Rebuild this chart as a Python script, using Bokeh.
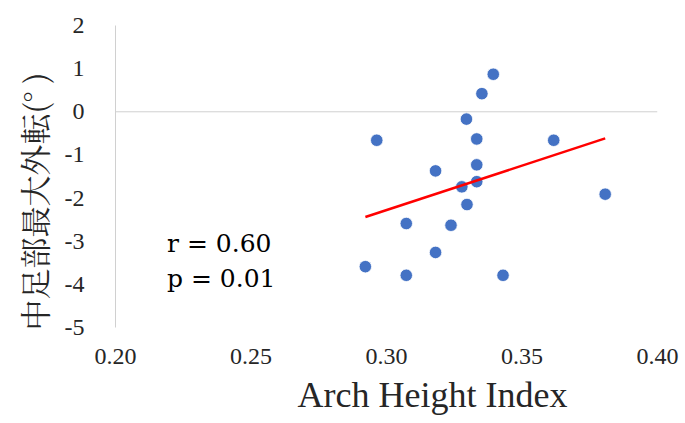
import numpy as np
from bokeh.plotting import figure
from bokeh.models import Span, Label, FixedTicker, Range1d, Title
from bokeh.embed import file_html
from bokeh.resources import INLINE

# Data
arch_height_index = [0.3394, 0.3352, 0.3295, 0.2964, 0.3333, 0.3617, 0.3333, 0.3181, 0.3333,
                     0.3278, 0.3807, 0.3297, 0.3073, 0.3238, 0.3181, 0.2922, 0.3073, 0.3430]
abduction_deg = [0.87, 0.42, -0.17, -0.66, -0.63, -0.66, -1.23, -1.37, -1.62,
                 -1.74, -1.91, -2.15, -2.59, -2.63, -3.26, -3.59, -3.79, -3.79]
x_ticks = [0.20, 0.25, 0.30, 0.35, 0.40]
y_ticks = [-5, -4, -3, -2, -1, 0, 1, 2]
stats_text = ["r = 0.60", "p = 0.01"]
x_title = "Arch Height Index"
y_title = "中足部最大外転(°  )"

SERIF = "Liberation Serif"

p = figure(width=685, height=423, output_backend="svg", toolbar_location=None,
           x_range=Range1d(0.20, 0.40), y_range=Range1d(-5, 2),
           min_border_left=115, min_border_right=28, min_border_top=25, min_border_bottom=96)
p.outline_line_color = None
p.xgrid.grid_line_color = None
p.ygrid.grid_line_color = None
p.background_fill_color = "white"

# x axis
p.xaxis.ticker = FixedTicker(ticks=x_ticks)
p.xaxis.major_label_overrides = {t: f"{t:.2f}" for t in x_ticks}
p.xaxis.axis_line_color = None
p.xaxis.major_tick_line_color = None
p.xaxis.minor_tick_line_color = None
p.xaxis.major_label_standoff = 15
p.xaxis.major_label_text_font = SERIF
p.xaxis.major_label_text_font_size = "24px"
p.xaxis.major_label_text_color = "#262626"

# y axis
p.yaxis.ticker = FixedTicker(ticks=y_ticks)
p.yaxis.major_label_overrides = {t: str(t) for t in y_ticks}
p.yaxis.axis_line_color = "#d0d0d0"
p.yaxis.major_tick_line_color = None
p.yaxis.minor_tick_line_color = None
p.yaxis.major_label_standoff = 25
p.yaxis.major_label_text_font = SERIF
p.yaxis.major_label_text_font_size = "24px"
p.yaxis.major_label_text_color = "#262626"

# zero line (horizontal axis crossing)
p.add_layout(Span(location=0, dimension="width", line_color="#d0d0d0", line_width=1))

# points
p.scatter(arch_height_index, abduction_deg, size=12.5, fill_color="#4472C4",
          line_color="white", line_width=0.8)

# linear trend line
xa = np.array(arch_height_index)
ya = np.array(abduction_deg)
slope, intercept = np.polyfit(xa, ya, 1)
xl = np.array([xa.min(), xa.max()])
p.line(xl, slope * xl + intercept, line_color="#FF0000", line_width=2.5)

# stats text
for i, t in enumerate(stats_text):
    p.add_layout(Label(x=0.219, y=-3.05 - i * 0.82, text=t, text_font="DejaVu Serif",
                       text_font_size="25px", text_color="black", text_baseline="middle"))

# axis titles
p.add_layout(Title(text=x_title, align="left", offset=182, standoff=12,
                   text_font=SERIF, text_font_size="36px", text_font_style="normal",
                   text_color="#262626"), "below")
p.add_layout(Title(text=y_title, align="left", offset=-3, standoff=12,
                   text_font="'Noto Serif CJK JP', 'Noto Sans CJK JP'", text_font_size="31px",
                   text_font_style="normal", text_color="#262626"), "left")

open("out.html", "w").write(file_html(p, INLINE))
